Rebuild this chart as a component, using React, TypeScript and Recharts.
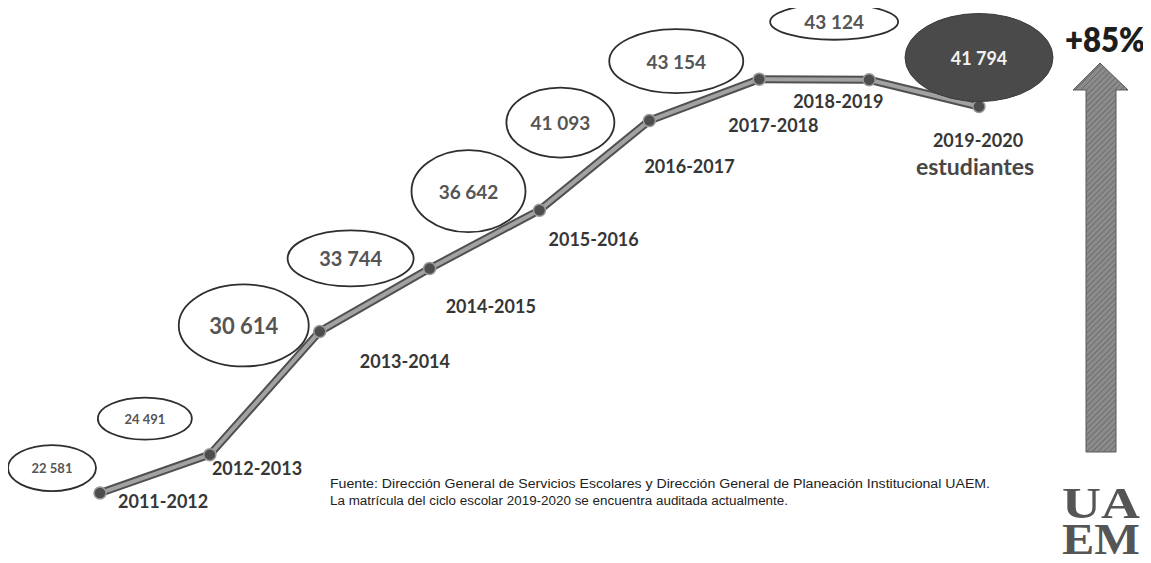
import React from "react";
import { LineChart, Line, XAxis, YAxis, LabelList } from "recharts";

// ---- data ----
const periods = [
  "2011-2012",
  "2012-2013",
  "2013-2014",
  "2014-2015",
  "2015-2016",
  "2016-2017",
  "2017-2018",
  "2018-2019",
  "2019-2020",
];
const students = [22581, 24491, 30614, 33744, 36642, 41093, 43154, 43124, 41794];
const growthLabel = "+85%";
const unitLabel = "estudiantes";
const sourceLines = [
  "Fuente: Dirección General de Servicios Escolares y Dirección General de Planeación  Institucional UAEM.",
  "La matrícula del ciclo escolar 2019-2020 se encuentra auditada actualmente.",
];
const logoLines = ["UA", "EM"];

const data = periods.map((p, i) => ({ period: p, students: students[i] }));

// ---- annotation styling (offsets relative to each point) ----
const bubbleStyle = [
  { dx: -48, dy: -25, rx: 44, ry: 23, fs: 13, filled: false },
  { dx: -65, dy: -36, rx: 47, ry: 21, fs: 13, filled: false },
  { dx: -76, dy: -6, rx: 65, ry: 41, fs: 22, filled: false },
  { dx: -79, dy: -10, rx: 63, ry: 28, fs: 20, filled: false },
  { dx: -71, dy: -19, rx: 57, ry: 41, fs: 19, filled: false },
  { dx: -89, dy: 2, rx: 54, ry: 35, fs: 19, filled: false },
  { dx: -83, dy: -18, rx: 67, ry: 32, fs: 19, filled: false },
  { dx: -35, dy: -58, rx: 64, ry: 18, fs: 19, filled: false },
  { dx: 0, dy: -49, rx: 74, ry: 44, fs: 18, filled: true },
];
const yearStyle = [
  { dx: 18, dy: 8, anchor: "start" },
  { dx: 2, dy: 13, anchor: "start" },
  { dx: 40, dy: 30, anchor: "start" },
  { dx: 16, dy: 38, anchor: "start" },
  { dx: 9, dy: 29, anchor: "start" },
  { dx: -5, dy: 45, anchor: "start" },
  { dx: -31, dy: 46, anchor: "start" },
  { dx: -76, dy: 21, anchor: "start" },
  { dx: -1, dy: 33, anchor: "middle" },
];

const fmt = (v: number) => {
  const s = String(v);
  return s.slice(0, s.length - 3) + " " + s.slice(s.length - 3);
};

const FONT = "Lato, 'Open Sans', sans-serif";

const renderBubble = (props: any) => {
  const { x, y, index, value } = props;
  const st = bubbleStyle[index];
  if (!st) return null;
  const cx = x + st.dx;
  const cy = y + st.dy;
  return (
    <g key={`b-${index}`}>
      <ellipse
        cx={cx}
        cy={cy}
        rx={st.rx}
        ry={st.ry}
        fill={st.filled ? "#4a4a4a" : "#ffffff"}
        stroke={st.filled ? "#3c3c3c" : "#2e2e2e"}
        strokeWidth={st.filled ? 1 : 1.8}
      />
      <text
        x={cx}
        y={cy}
        textAnchor="middle"
        dominantBaseline="central"
        fontFamily={FONT}
        fontWeight={700}
        fontSize={st.fs}
        fill={st.filled ? "#f2f2f2" : "#555555"}
      >
        {fmt(Number(value))}
      </text>
    </g>
  );
};

const renderYear = (props: any) => {
  const { x, y, index, value } = props;
  const st = yearStyle[index];
  if (!st) return null;
  return (
    <text
      key={`y-${index}`}
      x={x + st.dx}
      y={y + st.dy}
      textAnchor={st.anchor as any}
      dominantBaseline="central"
      fontFamily={FONT}
      fontWeight={700}
      fontSize={18}
      fill="#363636"
    >
      {value}
    </text>
  );
};

export default function App() {
  return (
    <div style={{ position: "relative", width: 1143, height: 555, background: "#ffffff" }}>
      <LineChart
        width={1135}
        height={547}
        data={data}
        margin={{ top: 34, right: 164, bottom: 10, left: 92 }}
      >
        <XAxis dataKey="period" hide />
        <YAxis hide domain={[20000, 45000]} />
        <Line
          dataKey="students"
          stroke="#505050"
          strokeWidth={8}
          dot={false}
          isAnimationActive={false}
        />
        <Line
          dataKey="students"
          stroke="#a2a2a2"
          strokeWidth={4}
          dot={{ r: 6, fill: "#4d4d4d", stroke: "#9a9a9a", strokeWidth: 1.5 }}
          isAnimationActive={false}
        >
          <LabelList dataKey="students" content={renderBubble} />
          <LabelList dataKey="period" content={renderYear} />
        </Line>
      </LineChart>
      <svg
        width={1143}
        height={555}
        style={{ position: "absolute", left: 0, top: 0, pointerEvents: "none", overflow: "visible" }}
      >
        <defs>
          <pattern id="hatch" width="4" height="4" patternUnits="userSpaceOnUse" patternTransform="rotate(45)">
            <rect width="4" height="4" fill="#8c8c8c" />
            <line x1="0" y1="0" x2="0" y2="4" stroke="#646464" strokeWidth="1.5" />
          </pattern>
        </defs>
        <polygon
          points="1092,55 1120,82 1108,82 1108,444 1078,444 1078,82 1065,82"
          fill="url(#hatch)"
          stroke="#5a5a5a"
          strokeWidth={1}
        />
        <text
          x={1057}
          y={44}
          fontFamily={FONT}
          fontWeight={800}
          fontSize={33}
          fill="#1e1e1e"
          textLength={80}
          lengthAdjust="spacingAndGlyphs"
        >
          {growthLabel}
        </text>
        <text
          x={967}
          y={167}
          textAnchor="middle"
          fontFamily={FONT}
          fontWeight={700}
          fontSize={23}
          fill="#474747"
        >
          {unitLabel}
        </text>
        {sourceLines.map((t, i) => (
          <text
            key={i}
            x={322}
            y={480 + i * 17}
            fontFamily="'Liberation Sans', Arial, sans-serif"
            fontSize={12}
            fill="#222222"
            textLength={i === 0 ? 660 : 458}
            lengthAdjust="spacingAndGlyphs"
          >
            {t}
          </text>
        ))}
        <text
          x={1054}
          y={510}
          fontFamily="'Liberation Serif', 'DejaVu Serif', serif"
          fontWeight={700}
          fontSize={44}
          fill="#555555"
        >
          {logoLines.map((t, i) => (
            <tspan
              key={t}
              x={1054}
              y={510 + i * 36}
              textLength={78}
              lengthAdjust="spacingAndGlyphs"
            >
              {t}
            </tspan>
          ))}
        </text>
      </svg>
    </div>
  );
}
